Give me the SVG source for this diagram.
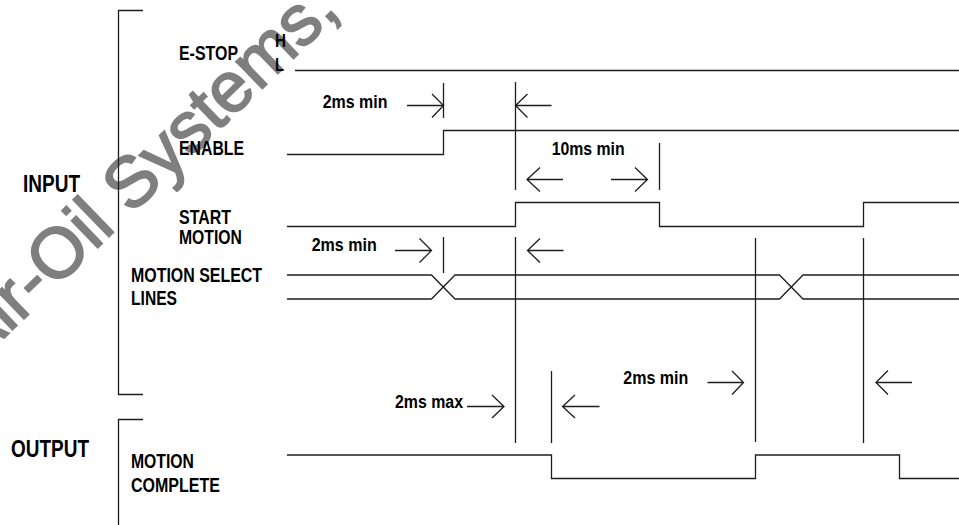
<svg xmlns="http://www.w3.org/2000/svg" width="959" height="525" viewBox="0 0 959 525">
<style>
.lbl{font-family:"Liberation Sans Narrow","Liberation Sans",Arial,sans-serif;font-weight:bold;font-size:20px;fill:#000}
.big{font-size:24px}
.dim{font-size:18px}
.ln{fill:none;stroke:#1e1e1e;stroke-width:1.3}
.wm{font-family:"Liberation Sans",Arial,sans-serif;font-size:71px;fill:#7f7f7f;stroke:#7f7f7f;stroke-width:1.8}
</style>
<rect width="959" height="525" fill="#fff"/>
<text class="wm" transform="translate(-25,366) rotate(-44)">Air-Oil Systems,</text>

<g id="brackets" class="ln">
  <path d="M143,10.5 H118.5 V394.5 H143"/>
  <path d="M143,419.5 H118.5 V525"/>
</g>

<g id="label-input"><text class="lbl big" x="23" y="191.5" textLength="57" lengthAdjust="spacingAndGlyphs">INPUT</text></g>
<g id="label-output"><text class="lbl big" x="11" y="456.5" textLength="78" lengthAdjust="spacingAndGlyphs">OUTPUT</text></g>
<g id="estop">
  <text class="lbl" x="179" y="60" textLength="59" lengthAdjust="spacingAndGlyphs">E-STOP</text>
  <text class="lbl dim" x="275" y="47" textLength="11" lengthAdjust="spacingAndGlyphs">H</text>
  <text class="lbl dim" x="275" y="71" textLength="9" lengthAdjust="spacingAndGlyphs">L</text>
</g>
<g id="enable"><text class="lbl" x="179" y="155" textLength="65" lengthAdjust="spacingAndGlyphs">ENABLE</text></g>
<g id="start-motion">
  <text class="lbl" x="179" y="224" textLength="52" lengthAdjust="spacingAndGlyphs">START</text>
  <text class="lbl" x="179" y="244" textLength="63" lengthAdjust="spacingAndGlyphs">MOTION</text>
</g>
<g id="motion-select">
  <text class="lbl" x="131" y="281.5" textLength="131" lengthAdjust="spacingAndGlyphs">MOTION SELECT</text>
  <text class="lbl" x="131" y="305" textLength="46" lengthAdjust="spacingAndGlyphs">LINES</text>
</g>
<g id="motion-complete">
  <text class="lbl" x="131" y="468" textLength="63" lengthAdjust="spacingAndGlyphs">MOTION</text>
  <text class="lbl" x="131" y="492" textLength="89" lengthAdjust="spacingAndGlyphs">COMPLETE</text>
</g>
<g id="timing-labels">
  <text class="lbl dim" x="322.7" y="107.5" textLength="64.7" lengthAdjust="spacingAndGlyphs">2ms min</text>
  <text class="lbl dim" x="551.7" y="155" textLength="73" lengthAdjust="spacingAndGlyphs">10ms min</text>
  <text class="lbl dim" x="311.7" y="250.5" textLength="65" lengthAdjust="spacingAndGlyphs">2ms min</text>
  <text class="lbl dim" x="395" y="408" textLength="68" lengthAdjust="spacingAndGlyphs">2ms max</text>
  <text class="lbl dim" x="623.3" y="384" textLength="65" lengthAdjust="spacingAndGlyphs">2ms min</text>
</g>

<g id="connectors" class="ln">
  <path d="M295,70.5 H959"/>
  <path d="M287,154.5 H443.5 V130.5 H959"/>
  <path d="M287,226.5 H515.5 V202.5 H659.5 V226.5 H863.5 V202.5 H959"/>
  <path d="M287,275 H431.5 L455,299 H779.5 L803,275 H959"/>
  <path d="M287,299 H431.5 L455,275 H779.5 L803,299 H959"/>
  <path d="M287,455 H551.5 V478.5 H755.5 V455 H899.5 V478.5 H959"/>
  <path d="M443.5,83 V118 M443.5,237 V273 M515.5,82 V190 M515.5,237 V443 M659.5,143 V190 M755.5,238 V442 M863.5,238 V443 M551.5,371 V443"/>
  <path d="M407,105.5 H443.5 M432,94 L443.5,105.5 L432,117.5"/>
  <path d="M551.5,105.5 H515.5 M527.5,94 L515.5,105.5 L527.5,117.5"/>
  <path d="M563,179.5 H527 M540,167.5 L527,179.5 L540,191.5"/>
  <path d="M611,179.5 H647.5 M635,167.5 L647.5,179.5 L635,191.5"/>
  <path d="M395,250.5 H431.5 M419.5,238.5 L431.5,250.5 L419.5,262.5"/>
  <path d="M563.5,250.5 H527.5 M540,238.5 L527.5,250.5 L540,262.5"/>
  <path d="M467,406.5 H504 M492,395 L504,406.5 L492,418"/>
  <path d="M599.5,406.5 H562.5 M575,395 L562.5,406.5 L575,418"/>
  <path d="M707.5,382.5 H743.5 M732,371 L743.5,382.5 L732,394.5"/>
  <path d="M912,382.5 H876 M888,370.5 L876,382.5 L888,394.5"/>
</g>
</svg>
